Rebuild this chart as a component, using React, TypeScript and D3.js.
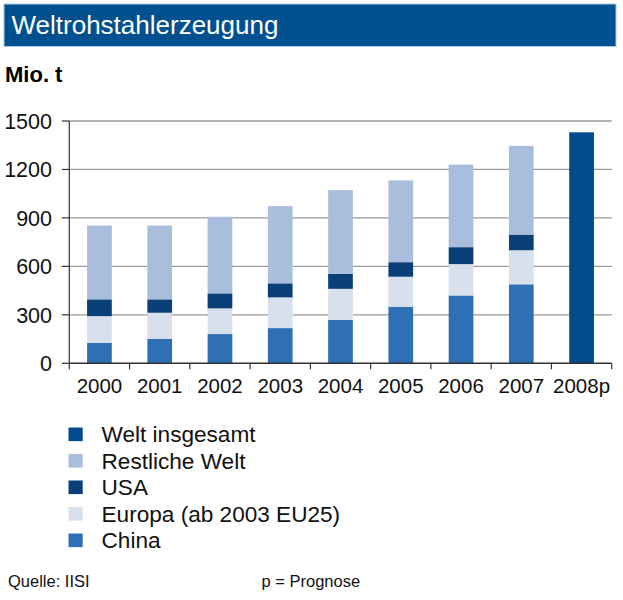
import React from "react";
import * as d3 from "d3";

const years = ["2000", "2001", "2002", "2003", "2004", "2005", "2006", "2007", "2008p"];
const china = [127, 152, 181, 218, 268, 350, 420, 489, 0];
const europa = [165, 161, 159, 190, 193, 186, 194, 211, 0];
const usa = [104, 83, 93, 87, 93, 90, 105, 97, 0];
const restWelt = [457, 457, 474, 478, 518, 506, 511, 549, 0];
const weltInsgesamt = [0, 0, 0, 0, 0, 0, 0, 0, 1430];
const yTicks = [0, 300, 600, 900, 1200, 1500];

const keys = ["china", "europa", "usa", "rest"];
const colors: Record<string, string> = {
  welt: "#024b8b",
  rest: "#a9bddc",
  usa: "#0b3f78",
  europa: "#d8e0ed",
  china: "#2f6fb3",
};
const legendItems = [
  { key: "welt", label: "Welt insgesamt" },
  { key: "rest", label: "Restliche Welt" },
  { key: "usa", label: "USA" },
  { key: "europa", label: "Europa (ab 2003 EU25)" },
  { key: "china", label: "China" },
];

const FONT = "'Liberation Sans', Arial, sans-serif";

export default function App() {
  const x0 = 69.3;
  const x1 = 611.7;
  const yTop = 121;
  const yBottom = 363.3;

  const x = d3.scaleBand<string>().domain(years).range([x0, x1]).paddingInner(0.59).paddingOuter(0.295);
  const y = d3.scaleLinear().domain([0, 1500]).range([yBottom, yTop]);

  const rows = years.map((yr, i) => ({
    year: yr,
    china: china[i],
    europa: europa[i],
    usa: usa[i],
    rest: restWelt[i],
  }));
  const stacked = d3.stack<any>().keys(keys)(rows);
  const step = x.step();
  const boundaries = d3.range(years.length + 1).map((i) => x0 + i * step);

  return (
    <>
      <style>{"body{margin:0}"}</style>
      <svg width={623} height={600} style={{ display: "block", fontFamily: FONT }}>
        <rect x={0} y={0} width={623} height={600} fill="#ffffff" />
        {/* title bar */}
        <rect x={4} y={4} width={612} height={42.5} fill="#01508f" stroke="#a8cbe8" strokeWidth={1} />
        <text x={11.5} y={34} fill="#ffffff" fontSize={26} fontFamily={FONT}>
          Weltrohstahlerzeugung
        </text>
        <text x={5} y={81.7} fill="#000" fontSize={22} fontWeight="bold">
          Mio. t
        </text>

        {/* gridlines */}
        {yTicks.filter((t) => t > 0).map((t) => (
          <line key={t} x1={x0} x2={x1} y1={y(t)} y2={y(t)} stroke="#9a9a9a" strokeWidth={1.3} />
        ))}

        {/* stacked bars */}
        {stacked.map((s) => (
          <g key={s.key} fill={colors[s.key]}>
            {s.map((d, i) =>
              d[1] - d[0] > 0 ? (
                <rect
                  key={i}
                  x={x(years[i])}
                  width={x.bandwidth()}
                  y={y(d[1])}
                  height={y(d[0]) - y(d[1])}
                />
              ) : null
            )}
          </g>
        ))}
        {/* Welt insgesamt */}
        <g fill={colors.welt}>
          {weltInsgesamt.map((v, i) =>
            v > 0 ? (
              <rect key={i} x={x(years[i])} width={x.bandwidth()} y={y(v)} height={y(0) - y(v)} />
            ) : null
          )}
        </g>

        {/* y axis */}
        <line x1={x0} x2={x0} y1={yTop} y2={yBottom} stroke="#333" strokeWidth={1.2} />
        {yTicks.map((t) => (
          <g key={t}>
            <line x1={x0 - 7.5} x2={x0} y1={y(t)} y2={y(t)} stroke="#333" strokeWidth={1.2} />
            <text x={52} y={y(t)} dy="0.36em" textAnchor="end" fontSize={21.5} fill="#111">
              {t}
            </text>
          </g>
        ))}

        {/* x axis */}
        <line x1={x0} x2={x1} y1={yBottom} y2={yBottom} stroke="#333" strokeWidth={1.4} />
        {boundaries.map((bx, i) => (
          <line key={i} x1={bx} x2={bx} y1={yBottom} y2={yBottom + 6} stroke="#333" strokeWidth={1.2} />
        ))}
        {years.map((yr) => (
          <text
            key={yr}
            x={(x(yr) as number) + x.bandwidth() / 2}
            y={392.5}
            textAnchor="middle"
            fontSize={20.5}
            fill="#111"
          >
            {yr}
          </text>
        ))}

        {/* legend */}
        {legendItems.map((it, i) => {
          const cy = 434.3 + i * 26.5;
          return (
            <g key={it.key}>
              <rect x={68.5} y={cy - 6.8} width={14.2} height={13.6} fill={colors[it.key]} />
              <text x={101.5} y={cy} dy="0.36em" fontSize={22.6} fill="#111">
                {it.label}
              </text>
            </g>
          );
        })}

        <text x={8} y={586.7} fontSize={16.5} fill="#111">
          Quelle: IISI
        </text>
        <text x={261.5} y={586.7} fontSize={16.5} fill="#111">
          p = Prognose
        </text>
      </svg>
    </>
  );
}
